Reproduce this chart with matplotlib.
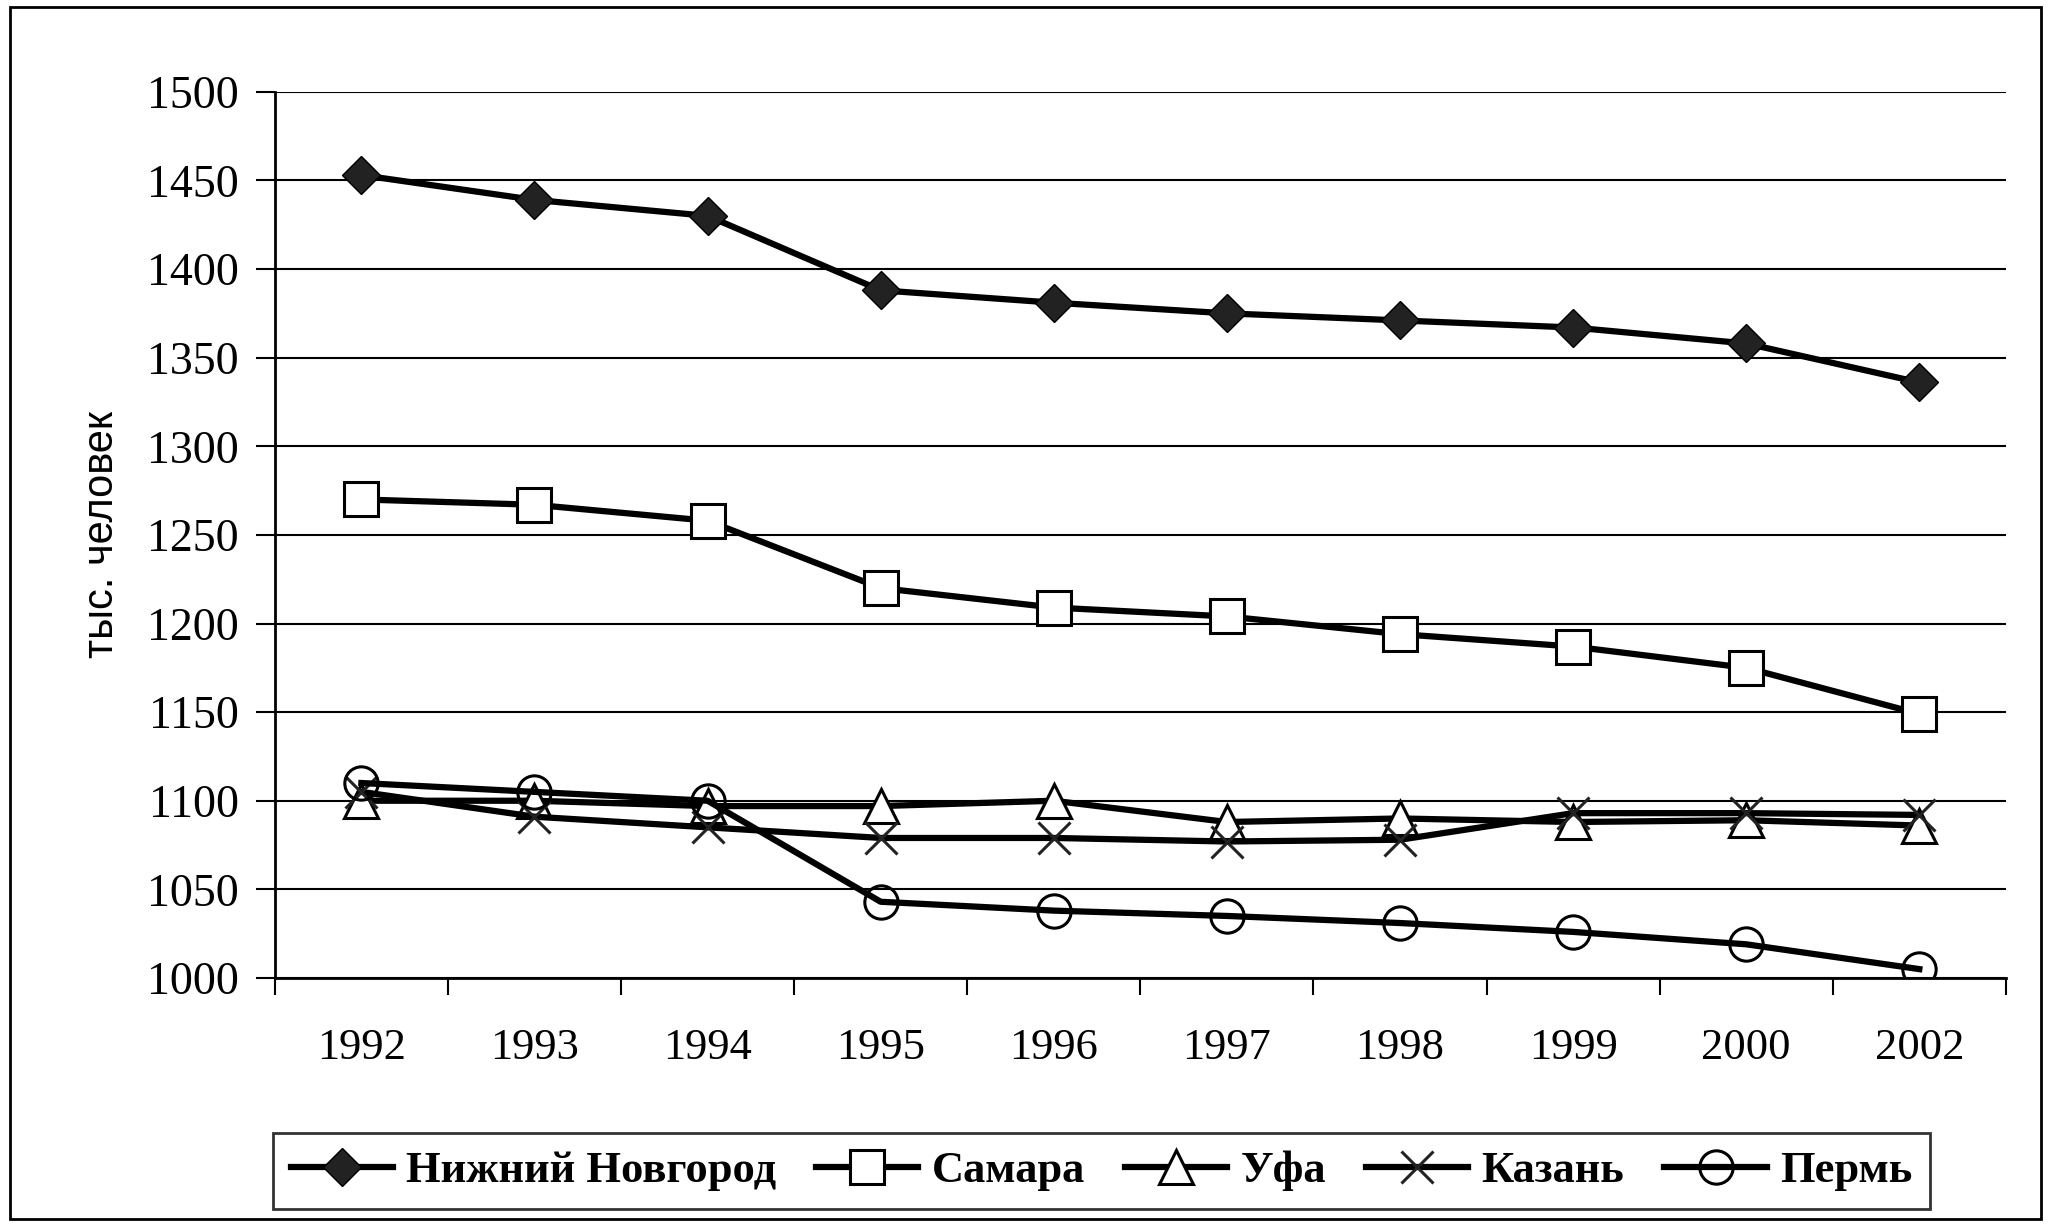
import matplotlib.pyplot as plt
from matplotlib.patches import Rectangle

years = ['1992', '1993', '1994', '1995', '1996', '1997', '1998', '1999', '2000', '2002']
nizhny = [1453, 1439, 1430, 1388, 1381, 1375, 1371, 1367, 1358, 1336]
samara = [1270, 1267, 1258, 1220, 1209, 1204, 1194, 1187, 1175, 1149]
ufa = [1100, 1100, 1097, 1097, 1100, 1088, 1090, 1088, 1089, 1086]
kazan = [1105, 1091, 1085, 1079, 1079, 1077, 1078, 1093, 1093, 1092]
perm = [1110, 1105, 1100, 1043, 1038, 1035, 1031, 1026, 1019, 1005]

plt.rcParams['font.family'] = ['Liberation Serif', 'DejaVu Serif']

fig = plt.figure(figsize=(20.51, 12.24), dpi=100)
ax = fig.add_axes([0.134, 0.201, 0.844, 0.724])

x = range(len(years))
lw = 4.5
ax.plot(x, nizhny, color='black', lw=lw, marker='D', ms=19, mfc='#222222', mec='black', label='Нижний Новгород')
ax.plot(x, samara, color='black', lw=lw, marker='s', ms=24, mfc='white', mec='black', mew=2.2, label='Самара')
ax.plot(x, ufa, color='black', lw=lw, marker='^', ms=25, mfc='white', mec='black', mew=2.2, label='Уфа')
ax.plot(x, kazan, color='black', lw=lw, marker='x', ms=23, mec='#222222', mew=2.2, label='Казань')
ax.plot(x, perm, color='black', lw=lw, marker='o', ms=24, mfc='none', mec='black', mew=2.2, label='Пермь')

ax.set_xlim(-0.5, len(years) - 0.5)
ax.set_ylim(1000, 1500)
ax.set_yticks(range(1000, 1501, 50))
ax.set_xticks(list(x))
ax.set_xticklabels(years)
ax.set_xticks([i - 0.5 for i in range(len(years) + 1)], minor=True)
ax.tick_params(axis='x', which='major', length=0, pad=36, labelsize=32)
ax.tick_params(axis='x', which='minor', length=12, width=1.5, direction='out')
ax.tick_params(axis='y', length=14, width=1.5, pad=12, labelsize=33)
ax.grid(axis='y', color='black', lw=1.5)
ax.set_axisbelow(True)
for s in ['top', 'right']:
    ax.spines[s].set_visible(False)
ax.spines['left'].set_linewidth(2)
ax.spines['bottom'].set_linewidth(2)

ax.set_ylabel('тыс. человек', fontsize=30, family=['Liberation Sans', 'DejaVu Sans'], labelpad=18)

leg = fig.legend(loc='center', bbox_to_anchor=(0.537, 0.0433), ncol=5,
                 prop={'size': 32, 'weight': 'bold'},
                 frameon=True, fancybox=False, edgecolor='black', handlelength=2.3,
                 handletextpad=0.3, columnspacing=0.9, borderpad=0.4)
leg.get_frame().set_linewidth(2)

fig.patches.append(Rectangle((0.005, 0.004), 0.99, 0.99, transform=fig.transFigure,
                             fill=False, edgecolor='black', lw=2))

fig.savefig('out.png', dpi=100)
